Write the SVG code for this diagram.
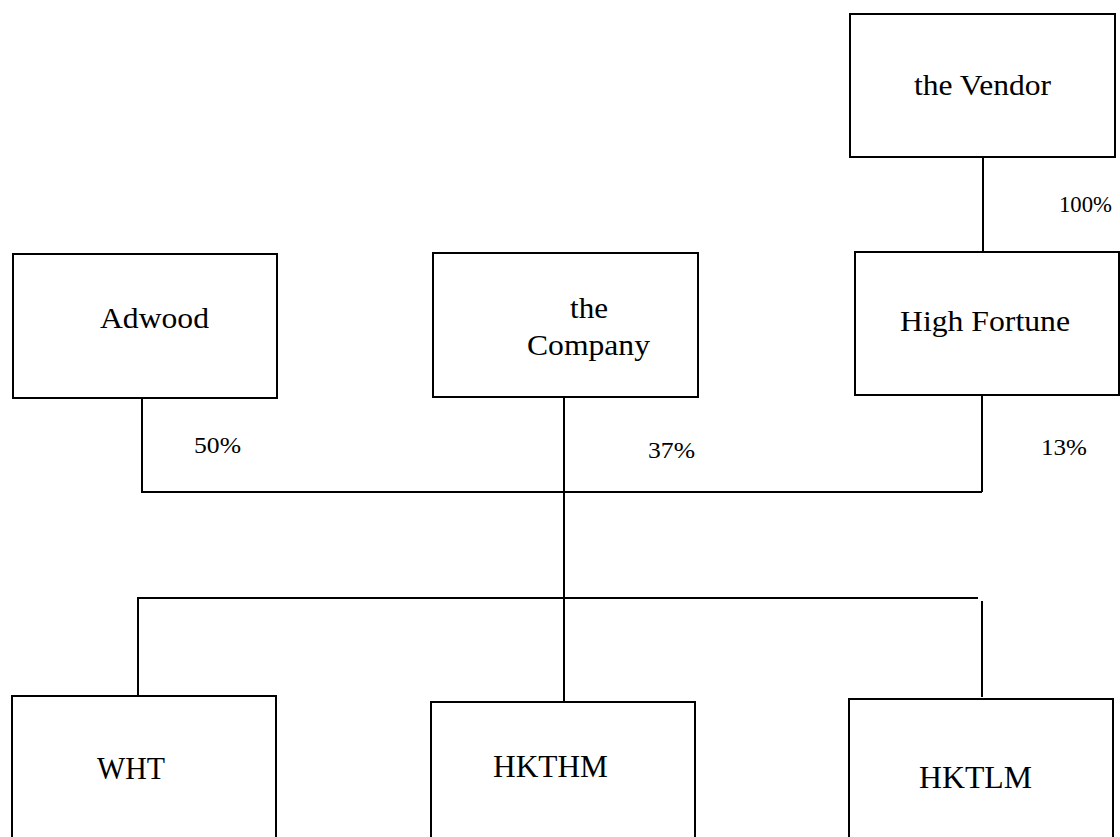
<svg xmlns="http://www.w3.org/2000/svg" width="1120" height="837" viewBox="0 0 1120 837">
<style>
.box{fill:#fff;stroke:#000;stroke-width:2}
.lbl{font-family:"Liberation Serif","Times New Roman",serif;font-size:29.5px;fill:#000}
.big{font-size:31px}
.pct{font-family:"Liberation Serif","Times New Roman",serif;font-size:23px;fill:#000}
.conn{fill:none;stroke:#000;stroke-width:2}
</style>
<rect width="1120" height="837" fill="#fff"/>
<g id="connectors">
<line class="conn" x1="983" y1="157" x2="983" y2="255"/>
<polyline class="conn" points="142,396 142,492 982,492"/>
<line class="conn" x1="982" y1="395" x2="982" y2="492"/>
<line class="conn" x1="564" y1="395" x2="564" y2="702"/>
<polyline class="conn" points="138,696 138,598 978,598"/>
<line class="conn" x1="982" y1="601" x2="982" y2="697"/>
<text class="pct" x="1059" y="212" textLength="53" lengthAdjust="spacingAndGlyphs">100%</text>
<text class="pct" x="194" y="453" textLength="47" lengthAdjust="spacingAndGlyphs">50%</text>
<text class="pct" x="648" y="458" textLength="47" lengthAdjust="spacingAndGlyphs">37%</text>
<text class="pct" x="1041" y="455" textLength="46" lengthAdjust="spacingAndGlyphs">13%</text>
</g>
<g id="vendor">
<rect class="box" x="850" y="14" width="265" height="143"/>
<text class="lbl" x="914" y="95" textLength="137" lengthAdjust="spacingAndGlyphs">the Vendor</text>
</g>
<g id="adwood">
<rect class="box" x="13" y="254" width="264" height="144"/>
<text class="lbl" x="100" y="328" textLength="109" lengthAdjust="spacingAndGlyphs">Adwood</text>
</g>
<g id="company">
<rect class="box" x="433" y="253" width="265" height="144"/>
<text class="lbl" x="570" y="318" textLength="38" lengthAdjust="spacingAndGlyphs">the</text>
<text class="lbl" x="527" y="355" textLength="123" lengthAdjust="spacingAndGlyphs">Company</text>
</g>
<g id="highfortune">
<rect class="box" x="855" y="252" width="264" height="143"/>
<text class="lbl" x="900" y="331" textLength="170" lengthAdjust="spacingAndGlyphs">High Fortune</text>
</g>
<g id="wht">
<rect class="box" x="12" y="696" width="264" height="160"/>
<text class="lbl big" x="97" y="779" textLength="68" lengthAdjust="spacingAndGlyphs">WHT</text>
</g>
<g id="hkthm">
<rect class="box" x="431" y="702" width="264" height="160"/>
<text class="lbl big" x="493" y="777" textLength="115" lengthAdjust="spacingAndGlyphs">HKTHM</text>
</g>
<g id="hktlm">
<rect class="box" x="849" y="699" width="264" height="160"/>
<text class="lbl big" x="919" y="788" textLength="113" lengthAdjust="spacingAndGlyphs">HKTLM</text>
</g>
</svg>
